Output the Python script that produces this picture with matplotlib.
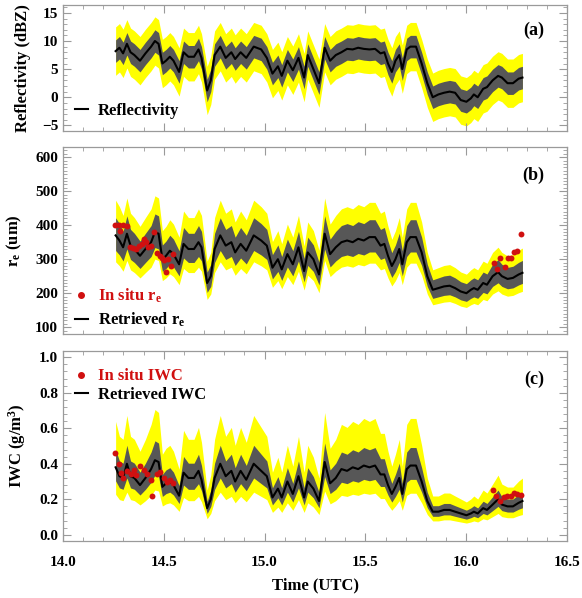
import matplotlib
matplotlib.use("Agg")
import matplotlib.pyplot as plt
import numpy as np
from matplotlib.ticker import MultipleLocator, AutoMinorLocator, FormatStrFormatter
from matplotlib.lines import Line2D

plt.rcParams['font.family'] = ['Liberation Serif', 'DejaVu Serif']
plt.rcParams['font.weight'] = 'bold'
plt.rcParams['mathtext.fontset'] = 'custom'
plt.rcParams['mathtext.rm'] = 'Liberation Serif:bold'
plt.rcParams['mathtext.it'] = 'Liberation Serif:bold'
plt.rcParams['mathtext.bf'] = 'Liberation Serif:bold'

# ---------------- data ----------------
time = [14.261, 14.280, 14.298, 14.317, 14.335, 14.354, 14.382, 14.409, 14.437, 14.456,
        14.474, 14.493, 14.511, 14.530, 14.548, 14.576, 14.598, 14.622, 14.650, 14.672,
        14.687, 14.715, 14.733, 14.752, 14.780, 14.807, 14.835, 14.854, 14.881, 14.909,
        14.946, 14.983, 15.011, 15.039, 15.066, 15.085, 15.113, 15.140, 15.168, 15.196,
        15.214, 15.242, 15.270, 15.298, 15.325, 15.353, 15.381, 15.409, 15.437, 15.464,
        15.492, 15.520, 15.548, 15.575, 15.594, 15.612, 15.631, 15.649, 15.668, 15.683,
        15.705, 15.723, 15.751, 15.779, 15.807, 15.834, 15.862, 15.890, 15.918, 15.945,
        15.973, 16.001, 16.023, 16.038, 16.057, 16.084, 16.103, 16.131, 16.158, 16.177,
        16.205, 16.232, 16.260, 16.279]

reflectivity = [8.2, 8.8, 7.8, 9.5, 8.0, 7.5, 6.5, 7.8, 9.0, 10.0,
                9.5, 6.0, 6.5, 7.2, 6.5, 4.5, 8.0, 7.2, 7.2, 8.5,
                7.0, 1.2, 3.0, 7.5, 9.0, 7.0, 8.0, 6.8, 8.0, 7.0,
                9.0, 8.5, 7.0, 4.2, 5.5, 3.8, 6.5, 4.8, 7.0, 3.5,
                7.5, 5.0, 2.5, 8.8, 6.5, 7.5, 8.0, 8.6, 8.5, 8.8,
                8.6, 8.5, 8.6, 7.8, 8.0, 6.0, 4.5, 6.5, 7.5, 5.0,
                8.5, 9.0, 9.0, 6.0, 2.5, 0.0, 0.5, 0.8, 1.0, 0.8,
                -0.5, -0.8, -0.2, 0.5, 0.0, 1.5, 1.8, 3.0, 3.8, 3.5,
                2.5, 2.5, 3.3, 3.5]

re_retrieved = [370, 355, 335, 375, 340, 330, 310, 330, 350, 380,
                375, 300, 310, 325, 315, 285, 345, 330, 330, 350,
                335, 230, 250, 330, 370, 340, 350, 320, 345, 325,
                370, 355, 340, 275, 300, 270, 315, 285, 335, 265,
                320, 300, 255, 375, 315, 335, 350, 355, 350, 360,
                355, 365, 365, 340, 345, 310, 280, 300, 330, 285,
                350, 365, 365, 320, 250, 210, 215, 220, 222, 215,
                205, 200, 210, 215, 210, 230, 225, 250, 262, 250,
                242, 245, 255, 260]

iwc_retrieved = [0.38, 0.33, 0.32, 0.40, 0.33, 0.32, 0.28, 0.32, 0.37, 0.42,
                 0.41, 0.27, 0.29, 0.30, 0.28, 0.22, 0.35, 0.32, 0.32, 0.36,
                 0.31, 0.15, 0.20, 0.32, 0.40, 0.33, 0.36, 0.30, 0.36, 0.31,
                 0.40, 0.36, 0.33, 0.21, 0.26, 0.21, 0.30, 0.23, 0.33, 0.21,
                 0.30, 0.26, 0.19, 0.41, 0.29, 0.32, 0.37, 0.36, 0.38, 0.37,
                 0.39, 0.38, 0.39, 0.34, 0.34, 0.28, 0.23, 0.27, 0.32, 0.23,
                 0.37, 0.39, 0.39, 0.30, 0.19, 0.13, 0.13, 0.14, 0.14, 0.13,
                 0.12, 0.11, 0.12, 0.13, 0.12, 0.15, 0.14, 0.17, 0.20, 0.17,
                 0.16, 0.16, 0.18, 0.19]

# retrieval uncertainty (inner = 1 sigma, outer = 2 sigma)
refl_err_inner = 2.0          # dBZ
refl_err_outer = 4.3          # dBZ
re_fac_inner = (0.88, 1.14)   # multiplicative lower / upper
re_fac_outer = (0.79, 1.28)
iwc_fac_inner = (0.80, 1.26)
iwc_fac_outer = (0.60, 1.68)

# in situ effective radius
re_insitu_time = [14.258, 14.276, 14.283, 14.298, 14.317, 14.330, 14.348, 14.363, 14.376, 14.391,
                  14.400, 14.413, 14.424, 14.437, 14.452, 14.465, 14.480, 14.493, 14.502, 14.511,
                  14.520, 14.535, 14.548,
                  16.140, 16.153, 16.168, 16.190, 16.205, 16.223, 16.238, 16.251, 16.270]
re_insitu = [400, 400, 382, 400, 397, 335, 332, 330, 340, 345,
             360, 350, 335, 338, 380, 318, 310, 305, 298, 262,
             300, 280, 315,
             290, 270, 305, 278, 305, 303, 322, 325, 375]

# in situ IWC
iwc_insitu_time = [14.258, 14.276, 14.289, 14.298, 14.317, 14.335, 14.350, 14.363, 14.382, 14.400,
                   14.419, 14.437, 14.440, 14.468, 14.483, 14.502, 14.517, 14.530, 14.548,
                   16.135, 16.150, 16.168, 16.187, 16.202, 16.220, 16.238, 16.251, 16.270]
iwc_insitu = [0.46, 0.40, 0.35, 0.32, 0.36, 0.34, 0.365, 0.335, 0.385, 0.365,
              0.345, 0.31, 0.22, 0.345, 0.355, 0.32, 0.30, 0.31, 0.29,
              0.255, 0.22, 0.19, 0.21, 0.22, 0.22, 0.235, 0.23, 0.225]

# ---------------- plotting ----------------
YELLOW = '#ffff00'
GRAY = '#575757'
RED = '#d01010'
FRAME = '#9a9a9a'

fig = plt.figure(figsize=(5.82, 5.98), dpi=100)
left, width = 63 / 582, 504 / 582
ax_a = fig.add_axes([left, 1 - 131 / 598, width, 126 / 598])
ax_b = fig.add_axes([left, 1 - 334 / 598, width, 187 / 598])
ax_c = fig.add_axes([left, 1 - 541 / 598, width, 190 / 598])

t = np.array(time)
z = np.array(reflectivity)
re = np.array(re_retrieved)
iwc = np.array(iwc_retrieved)

LW = 1.5

# (a)
ax_a.fill_between(t, z - refl_err_outer, z + refl_err_outer, color=YELLOW, lw=0)
ax_a.fill_between(t, z - refl_err_inner, z + refl_err_inner, color=GRAY, lw=0)
ax_a.plot(t, z, color='black', lw=LW)
ax_a.set_ylim(-6, 16.4)
ax_a.yaxis.set_major_locator(MultipleLocator(5))
ax_a.yaxis.set_minor_locator(AutoMinorLocator(5))
ax_a.set_ylabel('Reflectivity (dBZ)', fontsize=12, fontweight='bold', labelpad=8)

# (b)
ax_b.fill_between(t, re * re_fac_outer[0], re * re_fac_outer[1], color=YELLOW, lw=0)
ax_b.fill_between(t, re * re_fac_inner[0], re * re_fac_inner[1], color=GRAY, lw=0)
ax_b.plot(t, re, color='black', lw=LW)
ax_b.scatter(re_insitu_time, re_insitu, s=18, color=RED, zorder=5, lw=0)
ax_b.set_ylim(80, 630)
ax_b.yaxis.set_major_locator(MultipleLocator(100))
ax_b.yaxis.set_minor_locator(AutoMinorLocator(10))
ax_b.set_ylabel(r'r$_\mathregular{e}$ (um)', fontsize=12, fontweight='bold', labelpad=8)

# (c)
ax_c.fill_between(t, iwc * iwc_fac_outer[0], iwc * iwc_fac_outer[1], color=YELLOW, lw=0)
ax_c.fill_between(t, iwc * iwc_fac_inner[0], iwc * iwc_fac_inner[1], color=GRAY, lw=0)
ax_c.plot(t, iwc, color='black', lw=LW)
ax_c.scatter(iwc_insitu_time, iwc_insitu, s=18, color=RED, zorder=5, lw=0)
ax_c.set_ylim(-0.035, 1.035)
ax_c.yaxis.set_major_locator(MultipleLocator(0.2))
ax_c.yaxis.set_minor_locator(AutoMinorLocator(5))
ax_c.yaxis.set_major_formatter(FormatStrFormatter('%.1f'))
ax_c.set_ylabel(r'IWC (g/m$^\mathregular{3}$)', fontsize=12, fontweight='bold', labelpad=8)
ax_c.set_xlabel('Time (UTC)', fontsize=12, fontweight='bold', labelpad=6)

for ax, lab in zip([ax_a, ax_b, ax_c], ['(a)', '(b)', '(c)']):
    ax.set_xlim(14.0, 16.5)
    ax.xaxis.set_major_locator(MultipleLocator(0.5))
    ax.xaxis.set_minor_locator(AutoMinorLocator(5))
    ax.tick_params(which='both', direction='in', top=True, right=True, colors=FRAME,
                   labelcolor='black', labelsize=11)
    ax.tick_params(which='major', length=6, width=0.8)
    ax.tick_params(which='minor', length=3, width=0.6)
    ax.tick_params(axis='x', pad=11)
    for s in ax.spines.values():
        s.set_color(FRAME)
        s.set_linewidth(0.9)
    for tl in ax.get_xticklabels() + ax.get_yticklabels():
        tl.set_fontweight('bold')
    ax.text(0.955, 0.85 if ax is not ax_a else 0.80, lab, transform=ax.transAxes,
            ha='right', va='center', fontsize=13, fontweight='bold')

ax_a.tick_params(labelbottom=False)
ax_b.tick_params(labelbottom=False)
ax_c.xaxis.set_major_formatter(FormatStrFormatter('%.1f'))

line_h = Line2D([], [], color='black', lw=1.5)
dot_h = Line2D([], [], color=RED, marker='o', ms=4, lw=0)

ax_a.legend([line_h], ['Reflectivity'], loc='lower left', frameon=False,
            handlelength=0.8, handletextpad=0.6, borderaxespad=0.3,
            prop={'weight': 'bold', 'size': 12})

leg = ax_b.legend([dot_h, line_h], [r'In situ r$_\mathregular{e}$', r'Retrieved r$_\mathregular{e}$'],
                  loc='lower left', bbox_to_anchor=(0.0, -0.035), frameon=False,
                  handlelength=0.8, handletextpad=0.6, borderaxespad=0.3, labelspacing=0.3,
                  prop={'weight': 'bold', 'size': 12})
leg.get_texts()[0].set_color(RED)

leg = ax_c.legend([dot_h, line_h], ['In situ IWC', 'Retrieved IWC'],
                  loc='upper left', bbox_to_anchor=(0.0, 0.97), frameon=False,
                  handlelength=0.8, handletextpad=0.6, borderaxespad=0.3, labelspacing=0.15,
                  prop={'weight': 'bold', 'size': 12})
leg.get_texts()[0].set_color(RED)

fig.savefig('out.png', dpi=100)
